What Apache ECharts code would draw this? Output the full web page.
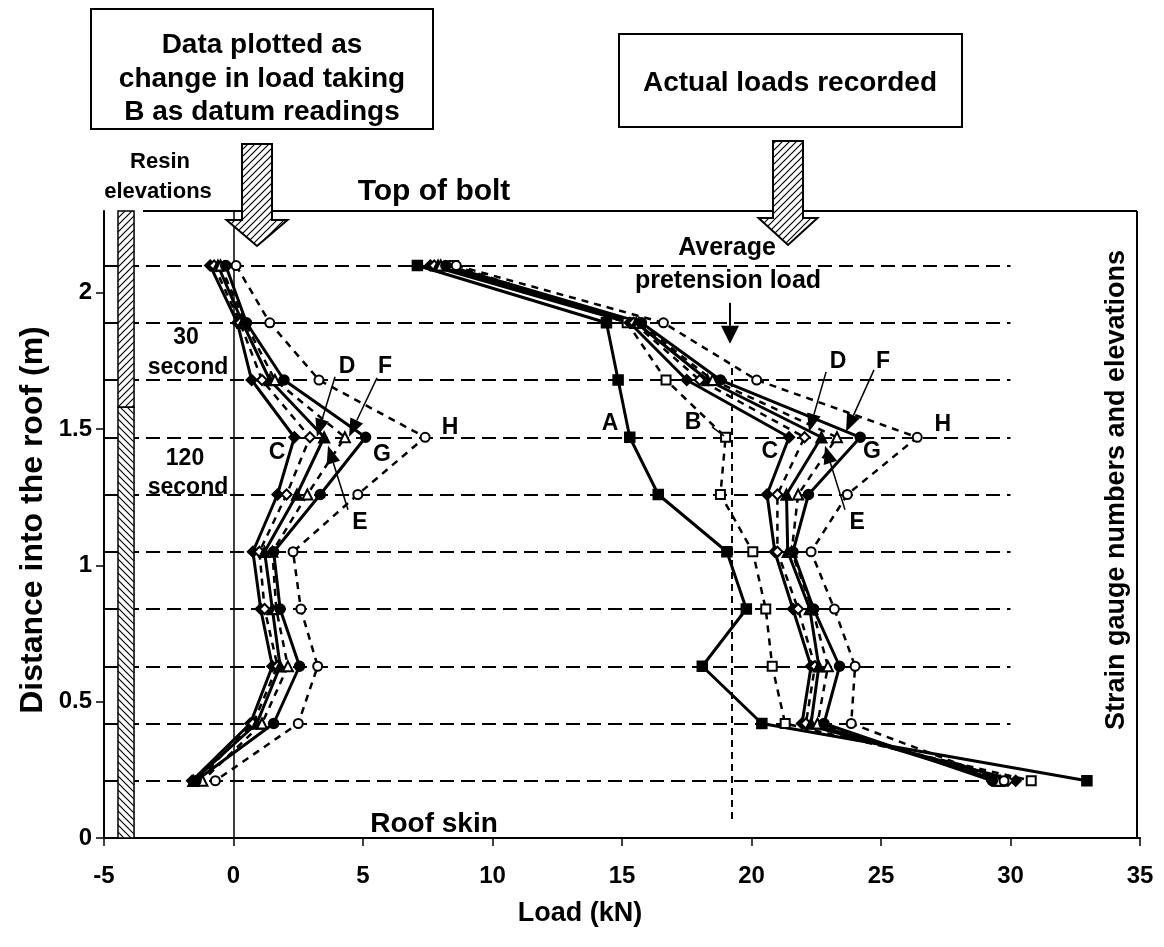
<!DOCTYPE html>
<html><head><meta charset="utf-8">
<script src="https://cdn.jsdelivr.net/npm/echarts@6/dist/echarts.min.js"></script>
<style>html,body{margin:0;padding:0;background:#fff}#c{width:1164px;height:947px}</style>
</head><body><div id="c"></div>
<script>
// ---------- data ----------
const elevations = [2.10, 1.89, 1.68, 1.47, 1.26, 1.05, 0.84, 0.63, 0.42, 0.21];
const gaugeNumbers = ['1','2','3','4','5','6','7','8','9','10'];
const xTicks = [-5, 0, 5, 10, 15, 20, 25, 30, 35];
const yTicks = [0, 0.5, 1, 1.5, 2];
// actual loads recorded (kN)
const actualA = [7.1, 14.4, 14.85, 15.3, 16.4, 19.05, 19.8, 18.1, 20.4, 32.95];
const actualB = [8.5, 15.2, 16.7, 19.0, 18.8, 20.05, 20.55, 20.8, 21.3, 30.8];
const actualC = [7.6, 15.3, 17.5, 21.45, 20.6, 20.9, 21.6, 22.3, 21.95, 30.2];
const actualD = [7.75, 15.45, 18.0, 22.05, 21.0, 21.0, 21.8, 22.45, 22.1, 29.9];
const actualE = [7.9, 15.55, 18.3, 22.7, 21.35, 21.4, 22.25, 22.6, 22.3, 29.6];
const actualF = [8.0, 15.65, 18.5, 23.3, 21.8, 21.55, 22.35, 22.95, 22.55, 29.5];
const actualG = [8.2, 15.75, 18.8, 24.2, 22.2, 21.6, 22.4, 23.4, 22.8, 29.3];
const actualH = [8.6, 16.6, 20.2, 26.4, 23.7, 22.3, 23.2, 24.0, 23.85, 29.75];
// change in load taking B as datum (kN)
const deltaC = [-0.9, 0.15, 0.7, 2.35, 1.7, 0.75, 1.05, 1.5, 0.65, -1.6];
const deltaD = [-0.75, 0.25, 1.1, 2.95, 2.05, 1.0, 1.2, 1.7, 0.75, -1.4];
const deltaE = [-0.6, 0.35, 1.4, 3.5, 2.45, 1.2, 1.5, 1.8, 0.9, -1.55];
const deltaF = [-0.5, 0.45, 1.6, 4.3, 2.85, 1.5, 1.65, 2.1, 1.1, -1.2];
const deltaG = [-0.3, 0.5, 1.95, 5.1, 3.35, 1.55, 1.8, 2.55, 1.55, -1.45];
const deltaH = [0.1, 1.4, 3.3, 7.4, 4.8, 2.3, 2.6, 3.25, 2.5, -0.7];
const pretensionLoad = 19.25;
const resinBoundary = 1.58;

// ---------- chart ----------
const FF = '"Liberation Sans", Arial, sans-serif';
const chart = echarts.init(document.getElementById('c'), null, {renderer: 'canvas'});

const styles = {
  A: {symbol: 'rect', dashed: false, size: 10},
  B: {symbol: 'emptyRect', dashed: true, size: 9},
  C: {symbol: 'diamond', dashed: false, size: 11},
  D: {symbol: 'emptyDiamond', dashed: true, size: 10},
  E: {symbol: 'triangle', dashed: false, size: 11},
  F: {symbol: 'emptyTriangle', dashed: true, size: 10},
  G: {symbol: 'circle', dashed: false, size: 10},
  H: {symbol: 'emptyCircle', dashed: true, size: 9}
};
function mk(name, key, vals) {
  const s = styles[key];
  return {
    type: 'line', name: name, silent: true, animation: false,
    data: vals.map((v, i) => [v, elevations[i]]),
    symbol: s.symbol, symbolSize: s.size, showSymbol: true, showAllSymbol: true,
    lineStyle: {color: '#000', width: s.dashed ? 2.5 : 3, type: s.dashed ? [7, 6] : 'solid'},
    itemStyle: {color: '#000', borderColor: '#000', borderWidth: 1.5},
    z: 5
  };
}

const series = [
  {
    type: 'line', name: 'guides', data: [], silent: true, animation: false, z: 2,
    markLine: {
      silent: true, animation: false, symbol: ['none', 'none'], label: {show: false},
      lineStyle: {color: '#000', width: 2, type: [14, 7]},
      data: elevations.map(e => [{coord: [-5, e]}, {coord: [30, e]}]).concat([
        [{coord: [0, 0], lineStyle: {type: 'solid', width: 1.5}}, {coord: [0, 2.3]}],
        [{coord: [pretensionLoad, 0.07], lineStyle: {type: [7, 5], width: 2}}, {coord: [pretensionLoad, 1.74]}]
      ])
    }
  },
  {
    type: 'scatter', name: 'gaugeLabels', silent: true, animation: false,
    data: elevations.map(e => [30.65, e]),
    symbolSize: 1, itemStyle: {opacity: 0},
    label: {show: true, position: 'inside', offset: [0, -17], color: '#000',
      fontFamily: FF, fontWeight: 'bold', fontSize: 20,
      formatter: p => gaugeNumbers[p.dataIndex]}
  },
  mk('A', 'A', actualA), mk('B', 'B', actualB), mk('C', 'C', actualC), mk('D', 'D', actualD),
  mk('E', 'E', actualE), mk('F', 'F', actualF), mk('G', 'G', actualG), mk('H', 'H', actualH),
  mk('dC', 'C', deltaC), mk('dD', 'D', deltaD), mk('dE', 'E', deltaE),
  mk('dF', 'F', deltaF), mk('dG', 'G', deltaG), mk('dH', 'H', deltaH)
];

chart.setOption({
  animation: false,
  backgroundColor: '#fff',
  grid: {left: 104, right: 24, top: 211, bottom: 109, show: false},
  xAxis: {
    type: 'value', min: -5, max: 35, interval: 5,
    axisLine: {show: true, onZero: false, lineStyle: {color: '#000', width: 2}},
    axisTick: {show: true, length: 8, lineStyle: {color: '#000', width: 1.5}, customValues: xTicks},
    splitLine: {show: false},
    axisLabel: {color: '#000', fontFamily: FF, fontWeight: 'bold', fontSize: 24, margin: 26, customValues: xTicks}
  },
  yAxis: {
    type: 'value', min: 0, max: 2.3, interval: 0.5,
    axisLine: {show: true, onZero: false, lineStyle: {color: '#000', width: 2}},
    axisTick: {show: true, length: 8, lineStyle: {color: '#000', width: 1.5}, customValues: yTicks},
    splitLine: {show: false},
    axisLabel: {color: '#000', fontFamily: FF, fontWeight: 'bold', fontSize: 24, margin: 12, customValues: yTicks}
  },
  series: series
});

// ---------- annotations ----------
const P = (x, y) => chart.convertToPixel({gridIndex: 0}, [x, y]);
function hatchCanvas(dir) {
  const n = 7, c = document.createElement('canvas'); c.width = n; c.height = n;
  const g = c.getContext('2d'); g.fillStyle = '#fff'; g.fillRect(0, 0, n, n);
  g.strokeStyle = '#000'; g.lineWidth = 1.2; g.beginPath();
  if (dir > 0) { g.moveTo(-1, n + 1); g.lineTo(n + 1, -1); g.moveTo(-1, 1); g.lineTo(1, -1); g.moveTo(n - 1, n + 1); g.lineTo(n + 1, n - 1); }
  else { g.moveTo(-1, -1); g.lineTo(n + 1, n + 1); g.moveTo(n - 1, -1); g.lineTo(n + 1, 1); g.moveTo(-1, n - 1); g.lineTo(1, n + 1); }
  g.stroke(); return c;
}
const patUp = {image: hatchCanvas(1), repeat: 'repeat'};
const patDown = {image: hatchCanvas(-1), repeat: 'repeat'};

const G = [];
function txt(t, x, y, size, extra) {
  G.push(Object.assign({type: 'text', z: 60, x: x, y: y, style: {text: t, x: 0, y: 0,
    font: 'bold ' + size + 'px ' + FF, fill: '#000', textAlign: 'center', textVerticalAlign: 'middle'}}, extra || {}));
}
function dtxt(t, dx, dy, size) { const p = P(dx, dy); txt(t, p[0], p[1], size); }
function arrow(s, t, len, wid, lw) {
  const dx = t[0] - s[0], dy = t[1] - s[1], L = Math.hypot(dx, dy), ux = dx / L, uy = dy / L;
  const bx = t[0] - ux * len, by = t[1] - uy * len, px = -uy, py = ux;
  G.push({type: 'line', z: 55, shape: {x1: s[0], y1: s[1], x2: bx, y2: by}, style: {stroke: '#000', lineWidth: lw || 1.5}});
  G.push({type: 'polygon', z: 55, shape: {points: [[t[0], t[1]], [bx + px * wid / 2, by + py * wid / 2], [bx - px * wid / 2, by - py * wid / 2]]}, style: {fill: '#000'}});
}
function darrow(s, t, len, wid, lw) { arrow(P(s[0], s[1]), P(t[0], t[1]), len, wid, lw); }
function hatchArrow(cx, top, sw, headTop, hw, tipY) {
  G.push({type: 'polygon', z: 70, shape: {points: [
    [cx - sw / 2, top], [cx + sw / 2, top], [cx + sw / 2, headTop], [cx + hw / 2, headTop],
    [cx, tipY], [cx - hw / 2, headTop], [cx - sw / 2, headTop]]},
    style: {fill: patUp, stroke: '#000', lineWidth: 2}});
}

// frame (top and right)
const tl = P(-5, 2.3), br = P(35, 0);
G.push({type: 'line', z: 30, shape: {x1: 143, y1: tl[1], x2: br[0] - 3, y2: tl[1]}, style: {stroke: '#000', lineWidth: 2}});
G.push({type: 'line', z: 30, shape: {x1: br[0] - 3, y1: tl[1], x2: br[0] - 3, y2: br[1]}, style: {stroke: '#000', lineWidth: 2}});

// resin bar
const r0 = P(-4.46, 2.3), r1 = P(-3.84, resinBoundary), r2 = P(-3.84, 0);
G.push({type: 'rect', z: 40, shape: {x: r0[0], y: r0[1], width: r1[0] - r0[0], height: r1[1] - r0[1]}, style: {fill: patUp, stroke: '#000', lineWidth: 1.5}});
G.push({type: 'rect', z: 40, shape: {x: r0[0], y: r1[1], width: r1[0] - r0[0], height: r2[1] - r1[1]}, style: {fill: patDown, stroke: '#000', lineWidth: 1.5}});

// boxes
G.push({type: 'rect', z: 60, shape: {x: 91, y: 9, width: 342, height: 120}, style: {fill: '#fff', stroke: '#000', lineWidth: 2}});
txt('Data plotted as', 262, 45, 28); txt('change in load taking', 262, 79, 28); txt('B as datum readings', 262, 112, 28);
G.push({type: 'rect', z: 60, shape: {x: 619, y: 34, width: 343, height: 93}, style: {fill: '#fff', stroke: '#000', lineWidth: 2}});
txt('Actual loads recorded', 790, 83, 28);
hatchArrow(257, 144, 30, 220, 61, 246);
hatchArrow(788, 141, 30, 218, 59, 245);

// text labels
txt('Resin', 160, 162, 22); txt('elevations', 158, 192, 22);
txt('Top of bolt', 434, 192, 30);
txt('Roof skin', 434, 824, 28);
txt('30', 186, 338, 23); txt('second', 188, 368, 23);
txt('120', 185, 459, 23); txt('second', 188, 488, 23);
txt('Average', 727, 248, 25); txt('pretension load', 728, 281, 25);
txt('Load (kN)', 580, 914, 27);
txt('Distance into the roof (m)', 33, 520, 32, {rotation: Math.PI / 2});
txt('Strain gauge numbers and elevations', 1117, 490, 27, {rotation: Math.PI / 2});

// series letters (placed in data space)
dtxt('C', 1.68, 1.413, 23); dtxt('G', 5.73, 1.405, 23); dtxt('H', 8.36, 1.505, 23);
dtxt('D', 4.38, 1.728, 23); dtxt('F', 5.85, 1.728, 23); dtxt('E', 4.88, 1.156, 23);
dtxt('A', 14.54, 1.519, 23); dtxt('B', 17.74, 1.523, 23); dtxt('C', 20.71, 1.417, 23);
dtxt('G', 24.65, 1.417, 23); dtxt('H', 27.39, 1.516, 23); dtxt('D', 23.34, 1.747, 23);
dtxt('F', 25.08, 1.747, 23); dtxt('E', 24.08, 1.156, 23);

// pointer arrows
darrow([3.92, 1.692], [3.22, 1.472], 18, 14);
darrow([5.54, 1.688], [4.46, 1.472], 18, 14);
darrow([4.42, 1.204], [3.65, 1.439], 18, 14);
darrow([22.88, 1.710], [22.22, 1.49], 18, 14);
darrow([24.73, 1.717], [23.65, 1.49], 18, 14);
darrow([23.61, 1.204], [22.84, 1.439], 18, 14);
darrow([pretensionLoad - 0.08, 1.963], [pretensionLoad - 0.08, 1.813], 18, 18, 2);
const b1 = P(18.47, 1.508), b2 = P(18.94, 1.475);
G.push({type: 'line', z: 55, shape: {x1: b1[0], y1: b1[1], x2: b2[0], y2: b2[1]}, style: {stroke: '#000', lineWidth: 1.5}});

chart.setOption({graphic: G});
</script></body></html>
